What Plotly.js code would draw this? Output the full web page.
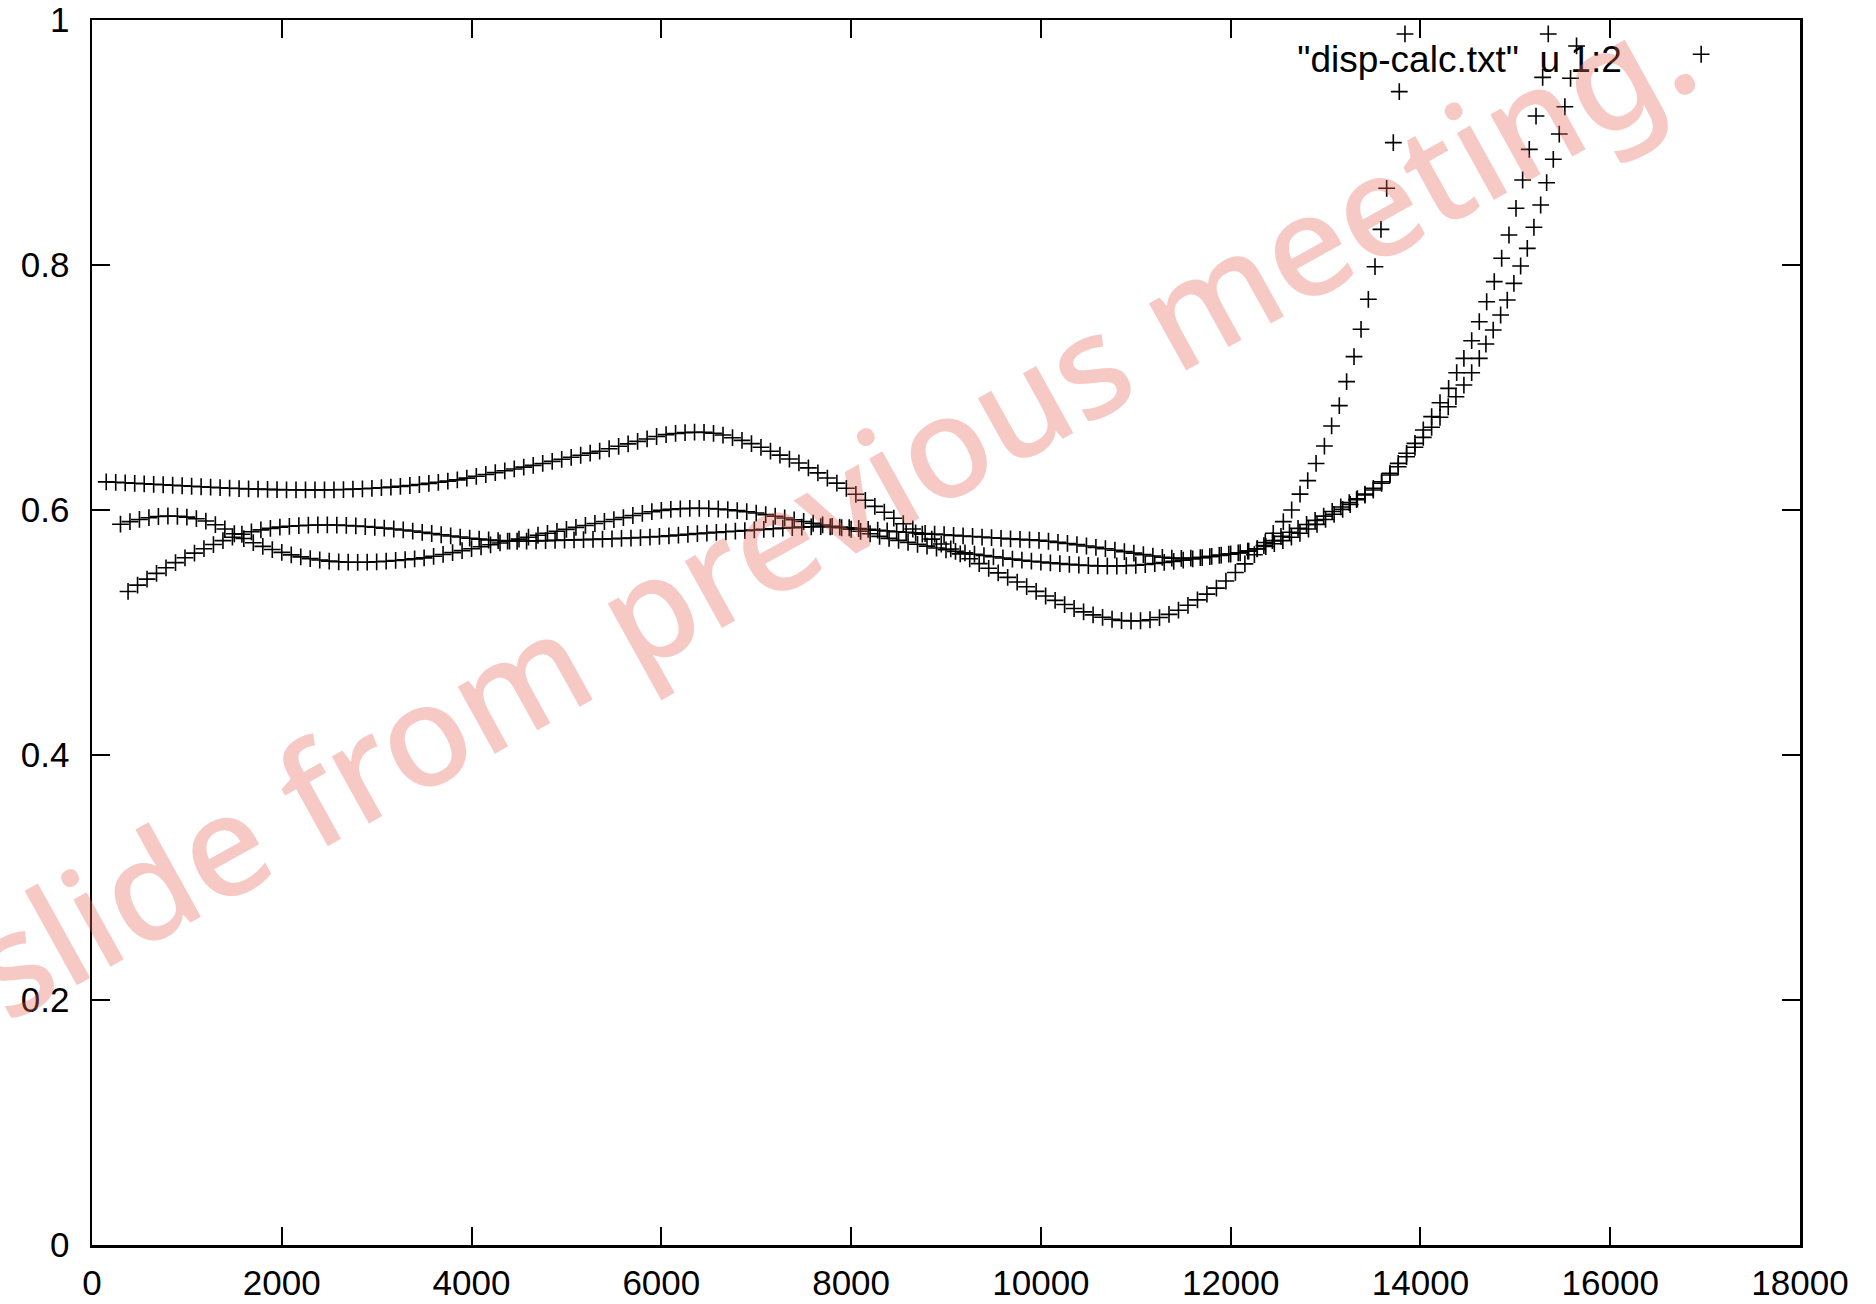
<!DOCTYPE html>
<html>
<head>
<meta charset="utf-8">
<script src="https://cdn.plot.ly/plotly-3.0.1.min.js"></script>
<style>html,body{margin:0;padding:0;background:#fff;}#plot{width:1876px;height:1304px;}</style>
</head>
<body>
<div id="plot"></div>
<script>
// Branch starting at the top (0.623), peak ~0.664, deep minimum ~0.509, then gradual rise
const topX = [150,250,350,450,550,650,750,850,950,1050,1150,1250,1350,1450,1550,1650,1750,1850,1950,2050,
  2150,2250,2350,2450,2550,2650,2750,2850,2950,3050,3150,3250,3350,3450,3550,3650,3750,3850,3950,4050,
  4150,4250,4350,4450,4550,4650,4750,4850,4950,5050,5150,5250,5350,5450,5550,5650,5750,5850,5950,6050,
  6150,6250,6350,6450,6550,6650,6750,6850,6950,7050,7150,7250,7350,7450,7550,7650,7750,7850,7950,8050,
  8150,8250,8350,8450,8550,8650,8750,8850,8950,9050,9150,9250,9350,9450,9550,9650,9750,9850,9950,10050,
  10150,10250,10350,10450,10550,10650,10750,10850,10950,11050,11150,11250,11350,11450,11550,11650,11750,11850,11950,12050,
  12150,12250,12350,12440,12530,12620,12710,12800,12890,12980,13070,13160,13250,13335,13415,13503,13591,13679,13766,13854,
  13942,14030,14118,14206,14293,14374,14458,14540,14620,14690,14767,14845,14915,14985,15056,15126,15196,15267,15330,15400,
  15463,15522,15582,15645];
const topY = [0.6230,0.6226,0.6222,0.6218,0.6214,0.6210,0.6206,0.6202,0.6198,0.6194,0.6190,0.6186,0.6182,0.6178,0.6175,0.6172,0.6170,0.6168,0.6166,0.6165,
  0.6164,0.6164,0.6164,0.6164,0.6165,0.6167,0.6170,0.6173,0.6177,0.6182,0.6187,0.6193,0.6200,0.6208,0.6217,0.6226,0.6236,0.6246,0.6260,0.6275,
  0.6290,0.6305,0.6320,0.6335,0.6350,0.6364,0.6380,0.6397,0.6414,0.6430,0.6447,0.6464,0.6480,0.6500,0.6520,0.6540,0.6560,0.6580,0.6600,0.6615,
  0.6625,0.6632,0.6635,0.6634,0.6626,0.6612,0.6590,0.6568,0.6542,0.6512,0.6480,0.6448,0.6416,0.6384,0.6344,0.6303,0.6261,0.6219,0.6177,0.6128,
  0.6079,0.6030,0.5982,0.5933,0.5888,0.5845,0.5803,0.5762,0.5722,0.5682,0.5642,0.5602,0.5562,0.5524,0.5487,0.5450,0.5412,0.5374,0.5336,0.5298,
  0.5262,0.5228,0.5196,0.5168,0.5144,0.5124,0.5108,0.5098,0.5094,0.5096,0.5104,0.5122,0.5148,0.5182,0.5222,0.5266,0.5313,0.5362,0.5420,0.5490,
  0.5560,0.5635,0.5710,0.5750,0.5785,0.5818,0.5850,0.5882,0.5915,0.5950,0.5988,0.6025,0.6060,0.6092,0.6122,0.6163,0.6218,0.6286,0.6353,0.6435,
  0.6512,0.6593,0.6675,0.6757,0.6843,0.6925,0.7020,0.7121,0.7238,0.7355,0.7469,0.7592,0.7714,0.7850,0.7992,0.8136,0.8308,0.8490,0.8672,0.8863,
  0.9069,0.9292,0.9524,0.9788];

// Branch starting at 0.589, peak ~0.601 near 6400, then gradual rise
const midX = [300,400,500,600,700,800,900,1000,1100,1200,1300,1400,1500,1600,1700,1800,1900,2000,2100,2200,
  2300,2400,2500,2600,2700,2800,2900,3000,3100,3200,3300,3400,3500,3600,3700,3800,3900,4000,4100,4200,
  4300,4400,4500,4600,4700,4800,4900,5000,5100,5200,5300,5400,5500,5600,5700,5800,5900,6000,6100,6200,
  6300,6400,6500,6600,6700,6800,6900,7000,7100,7200,7300,7400,7500,7600,7700,7800,7900,8000,8100,8200,
  8300,8400,8500,8600,8700,8800,8900,9000,9100,9200,9300,9400,9500,9600,9700,9800,9900,10000,10100,10200,
  10300,10400,10500,10600,10700,10800,10900,11000,11100,11200,11300,11400,11500,11600,11700,11800,11900,12000,12100,
  12190,12280,12370,12460,12550,12640,12730,12820,12910,13000,13090,13180,13260,13327,13415,13503,13591,13679,13766,13854,
  13942,14030,14118,14206,14297,14382,14458,14540,14620,14698,14778,14856,14933,15007,15077,15147,15218,15288,15347];
const midY = [0.5884,0.5905,0.5923,0.5937,0.5947,0.5951,0.5949,0.5942,0.5929,0.5910,0.5880,0.5845,0.5806,0.5767,0.5733,0.5703,0.5677,0.5654,0.5634,0.5617,
  0.5603,0.5592,0.5583,0.5577,0.5574,0.5573,0.5574,0.5577,0.5582,0.5588,0.5594,0.5601,0.5609,0.5622,0.5637,0.5652,0.5668,0.5684,0.5700,0.5716,
  0.5731,0.5746,0.5762,0.5778,0.5794,0.5810,0.5826,0.5842,0.5858,0.5874,0.5890,0.5906,0.5922,0.5938,0.5955,0.5972,0.5986,0.5997,0.6005,0.6010,
  0.6013,0.6014,0.6012,0.6008,0.6002,0.5995,0.5986,0.5975,0.5962,0.5949,0.5935,0.5920,0.5906,0.5892,0.5878,0.5866,0.5855,0.5843,0.5826,0.5806,
  0.5785,0.5768,0.5752,0.5736,0.5720,0.5705,0.5690,0.5675,0.5662,0.5650,0.5639,0.5628,0.5618,0.5608,0.5599,0.5590,0.5582,0.5575,0.5568,0.5562,
  0.5556,0.5551,0.5547,0.5544,0.5543,0.5543,0.5545,0.5549,0.5555,0.5563,0.5572,0.5581,0.5591,0.5601,0.5611,0.5621,0.5631,0.5641,0.5651,
  0.5665,0.5682,0.5702,0.5725,0.5750,0.5778,0.5810,0.5845,0.5883,0.5923,0.5965,0.6005,0.6045,0.6085,0.6130,0.6177,0.6231,0.6300,0.6381,0.6463,
  0.6544,0.6653,0.6762,0.6876,0.6993,0.7121,0.7238,0.7382,0.7537,0.7700,0.7864,0.8055,0.8245,0.8463,0.8694,0.8944,0.9216,0.9532,0.9886];

// Branch starting low (0.533), broad hump ~0.588, flat, then steep rise near 12500-13800
const lowX = [380,480,580,680,780,880,980,1080,1180,1280,1380,1480,1580,1680,1780,1880,1980,2080,2180,2280,
  2380,2480,2580,2680,2780,2880,2980,3080,3180,3280,3380,3480,3580,3680,3780,3880,3980,4080,4180,4280,
  4380,4480,4580,4680,4780,4880,4980,5080,5180,5280,5380,5480,5580,5680,5780,5880,5980,6080,6180,6280,
  6380,6480,6580,6680,6780,6880,6980,7080,7180,7280,7380,7480,7580,7680,7780,7880,7980,8080,8180,8280,
  8380,8480,8580,8680,8780,8880,8980,9080,9180,9280,9380,9480,9580,9680,9780,9880,9980,10080,10180,10280,
  10380,10480,10580,10680,10780,10880,10980,11080,11180,11280,11380,11480,11580,11680,11780,11880,11980,12080,12180,12280,
  12365,12449,12555,12643,12731,12812,12900,12988,13064,13145,13222,13300,13374,13451,13521,13584,13644,13714,13777,13837];
const lowY = [0.5335,0.5387,0.5436,0.5483,0.5528,0.5570,0.5610,0.5648,0.5684,0.5718,0.5750,0.5778,0.5802,0.5822,0.5838,0.5850,0.5860,0.5867,0.5872,0.5876,
  0.5878,0.5878,0.5877,0.5874,0.5870,0.5865,0.5859,0.5852,0.5845,0.5837,0.5828,0.5818,0.5808,0.5798,0.5788,0.5779,0.5770,0.5762,0.5755,0.5750,
  0.5746,0.5745,0.5746,0.5748,0.5750,0.5752,0.5754,0.5756,0.5758,0.5760,0.5762,0.5765,0.5768,0.5771,0.5775,0.5779,0.5784,0.5789,0.5795,0.5801,
  0.5807,0.5812,0.5817,0.5822,0.5827,0.5832,0.5837,0.5842,0.5847,0.5852,0.5856,0.5860,0.5863,0.5864,0.5863,0.5860,0.5855,0.5849,0.5842,0.5835,
  0.5829,0.5823,0.5818,0.5813,0.5808,0.5803,0.5798,0.5793,0.5788,0.5784,0.5779,0.5774,0.5769,0.5764,0.5760,0.5756,0.5752,0.5745,0.5736,0.5727,
  0.5717,0.5706,0.5695,0.5684,0.5672,0.5660,0.5648,0.5636,0.5624,0.5614,0.5607,0.5605,0.5607,0.5612,0.5620,0.5630,0.5640,0.5650,0.5664,0.5684,
  0.5735,0.5810,0.5905,0.6000,0.6130,0.6240,0.6380,0.6522,0.6686,0.6852,0.7048,0.7252,0.7475,0.7720,0.7986,0.8291,0.8626,0.8999,0.9415,0.9886];

const legendLabel = '"disp-calc.txt"\u00a0\u00a0u 1:2\u00a0\u00a0\u00a0\u00a0\u00a0';
const watermark = 'slide from previous meeting.';
const xTicks = [0,2000,4000,6000,8000,10000,12000,14000,16000,18000];
const yTicks = [0,0.2,0.4,0.6,0.8,1];

const markerStyle = {symbol: 'cross-thin', size: 12, color: '#000', line: {color: '#000', width: 1.6}};
const traces = [
  {x: topX, y: topY, type: 'scatter', mode: 'markers', name: ' ', showlegend: true, marker: markerStyle},
  {x: midX, y: midY, type: 'scatter', mode: 'markers', showlegend: false, marker: markerStyle},
  {x: lowX, y: lowY, type: 'scatter', mode: 'markers', showlegend: false, marker: markerStyle}
];

const fam = 'Liberation Sans, Arial, sans-serif';
const font = {family: fam, size: 35, color: '#000'};
const axisCommon = {
  showgrid: false, zeroline: false, showline: true, linecolor: '#000', linewidth: 2.5,
  mirror: 'allticks', ticks: 'inside', ticklen: 18, tickwidth: 2, tickcolor: '#000',
  tickfont: font
};
const layout = {
  width: 1876, height: 1304,
  margin: {l: 92, r: 76, t: 20, b: 59, pad: 0},
  paper_bgcolor: '#fff', plot_bgcolor: '#fff',
  font: font,
  xaxis: Object.assign({}, axisCommon, {range: [0, 18000], tickvals: xTicks, tickformat: 'd', ticklabelstandoff: 5}),
  yaxis: Object.assign({}, axisCommon, {range: [0, 1], tickvals: yTicks, ticklabelstandoff: 13}),
  showlegend: true,
  legend: {
    x: 0.7045, y: 0.997, xanchor: 'left', yanchor: 'top',
    bgcolor: 'rgba(0,0,0,0)', borderwidth: 0,
    font: {family: fam, size: 37, color: '#000'},
    title: {text: legendLabel, side: 'left', font: {family: fam, size: 37, color: '#000'}}
  },
  annotations: [{
    text: watermark, xref: 'paper', yref: 'paper', x: 0.432, y: 0.604,
    xanchor: 'center', yanchor: 'middle', showarrow: false, textangle: -29,
    font: {family: 'Noto Sans, sans-serif', size: 142, weight: 500, color: 'rgba(232,100,85,0.35)'}
  }]
};
Plotly.newPlot('plot', traces, layout, {displayModeBar: false, staticPlot: true});
</script>
</body>
</html>
